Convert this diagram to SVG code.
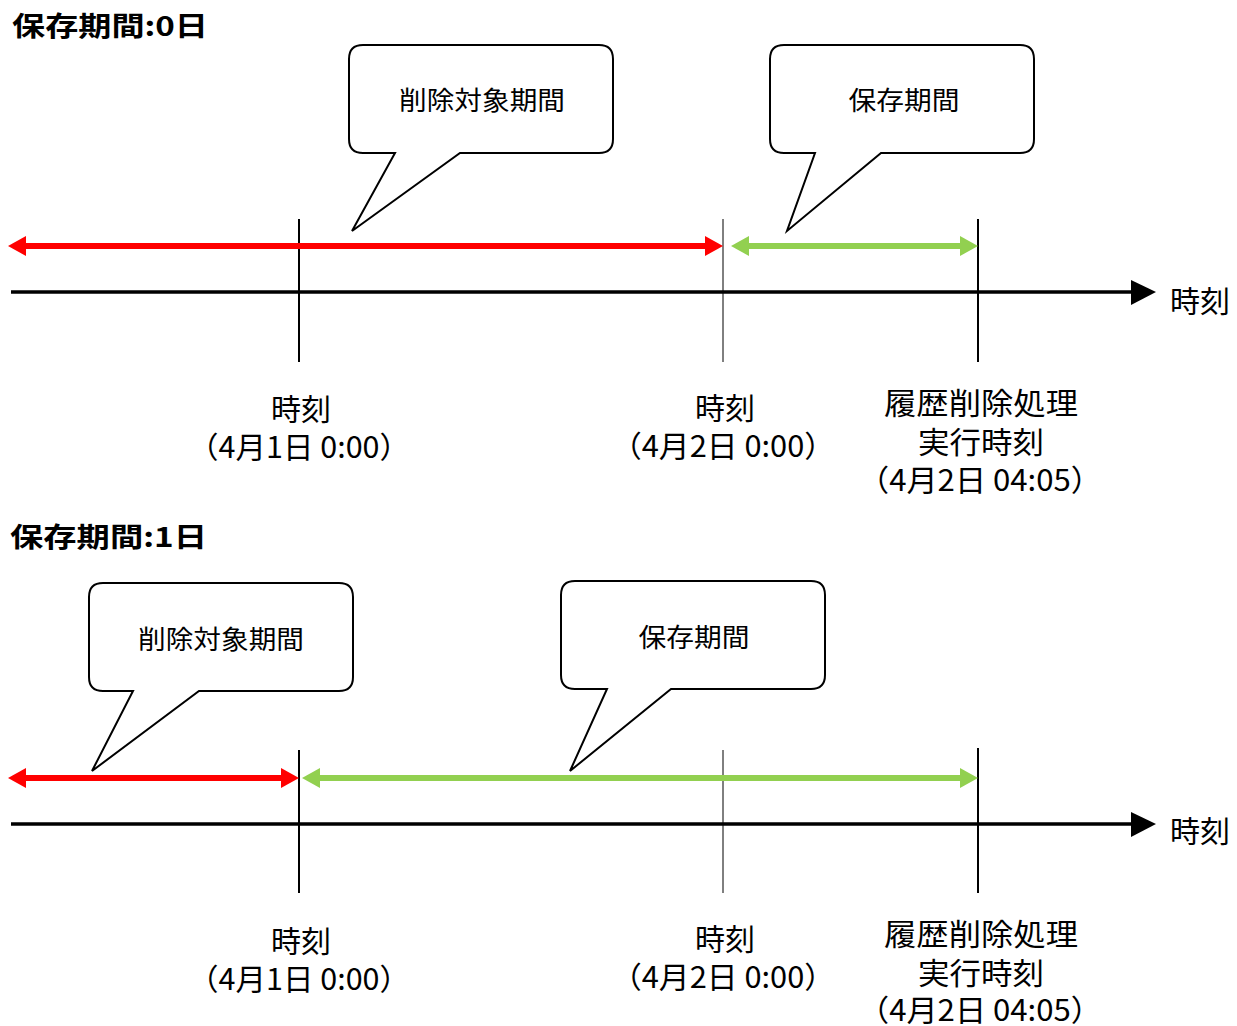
<svg xmlns="http://www.w3.org/2000/svg" width="1237" height="1026" viewBox="0 0 1237 1026">
<style>
text{font-family:"Noto Sans CJK JP","Noto Sans",sans-serif;fill:#000;dominant-baseline:central;text-anchor:middle}
.title{font-size:27px;font-weight:bold;text-anchor:start}
.co{font-size:26px}
.lb{font-size:30px}
.ax{font-size:30px;text-anchor:start}
.bubble{fill:#fff;stroke:#000;stroke-width:2;stroke-linejoin:miter}
.tick{stroke:#000;stroke-width:2}
.tick1{stroke:#000;stroke-width:1}
.axis{stroke:#000;stroke-width:3.5}
.red{stroke:#FF0000;stroke-width:6;marker-start:url(#hr);marker-end:url(#hr)}
.green{stroke:#92D050;stroke-width:6;marker-start:url(#hg);marker-end:url(#hg)}
</style>
<defs>
<marker id="hr" markerUnits="userSpaceOnUse" markerWidth="18" markerHeight="20" refX="0" refY="10" orient="auto-start-reverse" viewBox="0 0 18 20"><path d="M0,0 L18,10 L0,20 z" fill="#FF0000"/></marker>
<marker id="hg" markerUnits="userSpaceOnUse" markerWidth="18" markerHeight="20" refX="0" refY="10" orient="auto-start-reverse" viewBox="0 0 18 20"><path d="M0,0 L18,10 L0,20 z" fill="#92D050"/></marker>
</defs>

<g id="title-top"><text class="title" x="12" y="24" textLength="196" lengthAdjust="spacingAndGlyphs">保存期間:0日</text></g>
<g id="title-bottom"><text class="title" x="10" y="535" textLength="197" lengthAdjust="spacingAndGlyphs">保存期間:1日</text></g>

<g id="connectors">
  <line class="tick" x1="299" y1="219" x2="299" y2="362"/>
  <line class="tick1" x1="723" y1="219" x2="723" y2="362"/>
  <line class="tick" x1="978" y1="219" x2="978" y2="362"/>
  <line class="axis" x1="11" y1="292" x2="1132" y2="292"/>
  <polygon points="1131,280 1156,292 1131,305" fill="#000"/>
  <line class="red" x1="26" y1="246" x2="705" y2="246"/>
  <line class="green" x1="749" y1="246" x2="960" y2="246"/>

  <line class="tick" x1="299" y1="750" x2="299" y2="893"/>
  <line class="tick1" x1="723" y1="750" x2="723" y2="893"/>
  <line class="tick" x1="978" y1="748" x2="978" y2="893"/>
  <line class="axis" x1="11" y1="824" x2="1132" y2="824"/>
  <polygon points="1131,812 1156,824 1131,837" fill="#000"/>
  <line class="red" x1="26" y1="778" x2="281" y2="778"/>
  <line class="green" x1="320" y1="778" x2="960" y2="778"/>
</g>

<g id="callout-delete-top">
  <path class="bubble" d="M363,45 H599 Q613,45 613,59 V139 Q613,153 599,153 H460 L352,231 L395,153 H363 Q349,153 349,139 V59 Q349,45 363,45 Z"/>
  <text class="co" x="482" y="98" textLength="166" lengthAdjust="spacingAndGlyphs">削除対象期間</text>
</g>
<g id="callout-keep-top">
  <path class="bubble" d="M784,45 H1020 Q1034,45 1034,59 V139 Q1034,153 1020,153 H881 L787,231 L815,153 H784 Q770,153 770,139 V59 Q770,45 784,45 Z"/>
  <text class="co" x="904" y="98" textLength="111" lengthAdjust="spacingAndGlyphs">保存期間</text>
</g>
<g id="callout-delete-bottom">
  <path class="bubble" d="M103,583 H339 Q353,583 353,597 V677 Q353,691 339,691 H199 L92,771 L133,691 H103 Q89,691 89,677 V597 Q89,583 103,583 Z"/>
  <text class="co" x="221" y="637" textLength="166" lengthAdjust="spacingAndGlyphs">削除対象期間</text>
</g>
<g id="callout-keep-bottom">
  <path class="bubble" d="M575,581 H811 Q825,581 825,595 V675 Q825,689 811,689 H671 L570,771 L607,689 H575 Q561,689 561,675 V595 Q561,581 575,581 Z"/>
  <text class="co" x="694" y="635" textLength="111" lengthAdjust="spacingAndGlyphs">保存期間</text>
</g>

<g id="axis-label-top"><text class="ax" x="1170" y="299">時刻</text></g>
<g id="axis-label-bottom"><text class="ax" x="1170" y="829">時刻</text></g>

<g id="label-top-1">
  <text class="lb" x="301" y="407">時刻</text>
  <text class="lb" x="299" y="445" textLength="222" lengthAdjust="spacingAndGlyphs">（4月1日 0:00）</text>
</g>
<g id="label-top-2">
  <text class="lb" x="725" y="406">時刻</text>
  <text class="lb" x="723" y="444" textLength="224" lengthAdjust="spacingAndGlyphs">（4月2日 0:00）</text>
</g>
<g id="label-top-3">
  <text class="lb" x="981" y="401" textLength="194" lengthAdjust="spacingAndGlyphs">履歴削除処理</text>
  <text class="lb" x="981" y="440" textLength="126" lengthAdjust="spacingAndGlyphs">実行時刻</text>
  <text class="lb" x="980" y="478" textLength="244" lengthAdjust="spacingAndGlyphs">（4月2日 04:05）</text>
</g>

<g id="label-bottom-1">
  <text class="lb" x="301" y="939">時刻</text>
  <text class="lb" x="299" y="977" textLength="222" lengthAdjust="spacingAndGlyphs">（4月1日 0:00）</text>
</g>
<g id="label-bottom-2">
  <text class="lb" x="725" y="937">時刻</text>
  <text class="lb" x="723" y="975" textLength="224" lengthAdjust="spacingAndGlyphs">（4月2日 0:00）</text>
</g>
<g id="label-bottom-3">
  <text class="lb" x="981" y="932" textLength="194" lengthAdjust="spacingAndGlyphs">履歴削除処理</text>
  <text class="lb" x="981" y="971" textLength="126" lengthAdjust="spacingAndGlyphs">実行時刻</text>
  <text class="lb" x="980" y="1008" textLength="244" lengthAdjust="spacingAndGlyphs">（4月2日 04:05）</text>
</g>
</svg>
